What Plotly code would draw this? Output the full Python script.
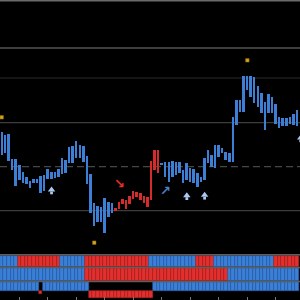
import plotly.graph_objects as go

# ---- price bars (high / low), index 0..83 ----
highs = [167.7, 165, 166, 141, 141, 135, 127.7, 122.7, 119, 120.7,
         120.7, 124, 125, 130.7, 127.7, 127.7, 130.7, 141.7, 140, 153.3,
         154, 159.3, 155, 154.3, 144.3, 126, 96.7, 94, 93.3, 102,
         98.3, 96.7, 91.7, 98.3, 101, 100, 104, 109.3, 108.3, 107.3,
         103.7, 103.3, 139, 150, 150, 137.3, 138.3, 138.3, 139.3, 138.3,
         138.3, 130, 136.7, 131.7, 130.7, 126.7, 123.3, 142, 150, 145,
         155, 155, 151.7, 148.3, 146.7, 183.3, 200, 200, 224.3, 224.3,
         224, 223.3, 214, 207.5, 198, 206.5, 203.5, 196, 183, 181.7,
         181.7, 182.7, 185.7, 190]
lows = [145, 146.7, 139.3, 130, 114.3, 120, 116.7, 115.7, 112.3, 117.3,
        117.3, 107.3, 109.3, 120.7, 120.7, 122.3, 123.3, 125.7, 127.3, 136.7,
        137.3, 142.3, 142.3, 138.3, 115.7, 87.3, 74, 78.3, 78.3, 66.7,
        83.3, 87.3, 89.3, 90.7, 96, 90.7, 95.7, 100.7, 102.7, 100,
        96.7, 92.7, 100, 130, 127, 135, 123.3, 118.3, 123.3, 125,
        126.7, 116.7, 120, 118.3, 116.7, 113.3, 118.3, 120, 137, 133.3,
        132, 143.3, 146.7, 140, 138.3, 138.3, 175, 188.3, 188.3, 210,
        203, 196.7, 193.3, 186.7, 170, 186.7, 186.7, 176, 171.7, 174.5,
        174, 176, 175.5, 174.5]
bar_dir = ["up"] * 32 + ["down"] * 13 + ["up"] * 39

# ---- signals ----
star_x = [0, 69, 26]
star_y = [182.7, 239.7, 57.3]
buy_x = [14, 52, 57, 84]
buy_y = [109, 103.3, 103.7, 161]
sell_diag = (33, 116.7)
buy_diag = (46, 110)

# ---- levels ----
levels = [299.3, 252, 222, 177.3, 89.3]
level_colors = ["#6a6a6a", "#3c3e40", "#2a2a2a", "#4c4c4c", "#4a4a4a"]
level_widths = [1.5, 2, 1, 1, 1]
dashed_level = 133.3

# ---- bottom panel rows (1 = bullish, 0 = bearish, None = empty) ----
row1 = [1]*5 + [0]*12 + [1]*7 + [0]*18 + [1]*13 + [0]*5 + [1]*17 + [0]*7
row2 = [1]*24 + [0]*40 + [1]*20
row3 = [1]*11 + [None] + [1]*13 + [None]*18 + [1]*41
row4_small = [11]
row4_long = list(range(25, 43))

tick_idx = [5, 13, 21, 29, 37, 45, 53, 61, 69, 77]

BLUE = "#3d7fd4"
RED = "#d42b2b"
CELL_BLUE, CELL_BLUE_D = "#3a80d8", "#2a5fa8"
CELL_RED, CELL_RED_D = "#e3302e", "#a82222"

n = len(highs)
idx = list(range(n))

fig = go.Figure()
fig.add_trace(go.Bar(
    x=idx, base=lows, y=[h - l for h, l in zip(highs, lows)],
    width=0.56, marker=dict(color=[BLUE if d == "up" else RED for d in bar_dir], line_width=0),
    xaxis="x", yaxis="y", showlegend=False))

fig.add_trace(go.Scatter(x=star_x, y=star_y, mode="markers", xaxis="x", yaxis="y",
                         marker=dict(symbol="square", size=3.5, color="#d2a418",
                                     line=dict(color="#8a6a00", width=0.5)), showlegend=False))
# up arrows: head + stem
fig.add_trace(go.Scatter(x=buy_x, y=[v + 1.2 for v in buy_y], mode="markers", xaxis="x", yaxis="y",
                         marker=dict(symbol="triangle-up", size=6.5, color="#a9c9f0", line_width=0),
                         showlegend=False))
fig.add_trace(go.Scatter(x=buy_x, y=[v - 1.9 for v in buy_y], mode="markers", xaxis="x", yaxis="y",
                         marker=dict(symbol="square", size=2.8, color="#a9c9f0", line_width=0),
                         showlegend=False))

fig.add_annotation(x=sell_diag[0], y=sell_diag[1], text="<b>↘</b>", showarrow=False, xref="x", yref="y",
                   font=dict(family="DejaVu Sans", size=13, color="#e03030"))
fig.add_annotation(x=buy_diag[0], y=buy_diag[1], text="<b>↗</b>", showarrow=False, xref="x", yref="y",
                   font=dict(family="DejaVu Sans", size=13, color="#4a82cc"))

# bottom rows
def add_row(vals, base, top):
    xs = [i for i, v in enumerate(vals) if v is not None]
    cols = [CELL_BLUE if vals[i] == 1 else CELL_RED for i in xs]
    lcols = [CELL_BLUE_D if vals[i] == 1 else CELL_RED_D for i in xs]
    fig.add_trace(go.Bar(x=xs, base=[base]*len(xs), y=[top - base]*len(xs), width=1.0,
                         marker=dict(color=cols, line=dict(color=lcols, width=0.6)),
                         xaxis="x2", yaxis="y2", showlegend=False))

add_row(row1, 33, 44.5)
add_row(row2, 19, 32)
add_row(row3, 9.3, 18)
fig.add_trace(go.Bar(x=row4_small, base=[5.7], y=[3.6], width=0.9,
                     marker=dict(color=CELL_RED, line=dict(color=CELL_RED_D, width=0.6)),
                     xaxis="x2", yaxis="y2", showlegend=False))
fig.add_trace(go.Bar(x=row4_long, base=[2]*len(row4_long), y=[7.3]*len(row4_long), width=1.0,
                     marker=dict(color=CELL_RED, line=dict(color=CELL_RED_D, width=0.6)),
                     xaxis="x2", yaxis="y2", showlegend=False))

shapes = []
for lv, c, w in zip(levels, level_colors, level_widths):
    shapes.append(dict(type="line", xref="paper", yref="y", x0=0, x1=1, y0=lv, y1=lv,
                       line=dict(color=c, width=w), layer="below"))
shapes.append(dict(type="line", xref="paper", yref="y", x0=0, x1=1, y0=dashed_level, y1=dashed_level,
                   line=dict(color="#474747", width=1.2, dash="7px,4px"), layer="below"))
for sv in [45.2, 32.5, 18.5]:
    shapes.append(dict(type="line", xref="paper", yref="y2", x0=0, x1=1, y0=sv, y1=sv,
                       line=dict(color="#5e5e5e", width=1.5)))

xr = [-0.478, 83.79]
fig.update_layout(
    width=300, height=300, margin=dict(l=0, r=0, t=0, b=0),
    paper_bgcolor="black", plot_bgcolor="black", barmode="overlay", bargap=0,
    shapes=shapes,
    xaxis=dict(domain=[0, 1], range=xr, anchor="y", showgrid=False, zeroline=False,
               showticklabels=False, showline=False),
    xaxis2=dict(domain=[0, 1], range=xr, anchor="y2", showgrid=False, zeroline=False,
                showticklabels=False, showline=False, tickmode="array", tickvals=tick_idx,
                ticks="inside", ticklen=3, tickcolor="#777777", tickwidth=1),
    yaxis=dict(domain=[0.16, 1], range=[48, 300], showgrid=False, zeroline=False,
               showticklabels=False),
    yaxis2=dict(domain=[0, 0.16], range=[0, 48], showgrid=False, zeroline=False,
                showticklabels=False),
)

fig.write_html("out.html")
